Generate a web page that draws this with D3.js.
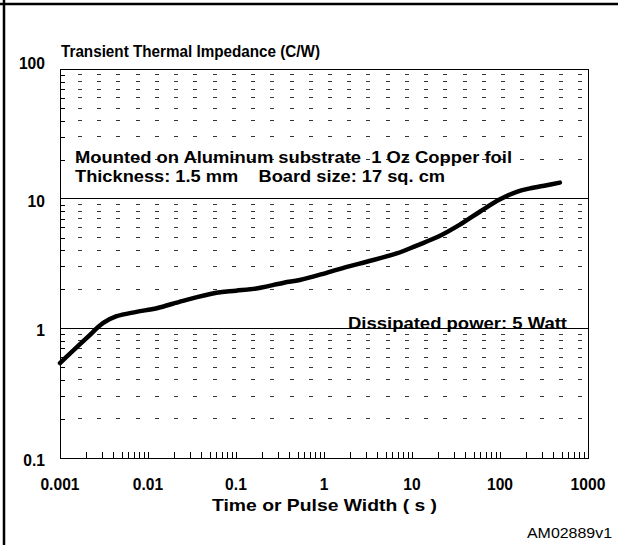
<!DOCTYPE html>
<html>
<head>
<meta charset="utf-8">
<script src="https://cdn.jsdelivr.net/npm/d3@7"></script>
<style>
body { margin: 0; background: #fff; }
text { font-family: "Liberation Sans", Arial, sans-serif; }
</style>
</head>
<body>
<div id="chart"></div>
<script>
// curve: pulse width (s) vs Zth (C/W)
var pulseWidth = [0.001, 0.002, 0.0031, 0.0044, 0.0074, 0.0126, 0.025, 0.06, 0.1, 0.17, 0.35, 0.53, 1.07, 1.97, 3.05, 6.7, 11.3, 20, 35, 59, 100, 155, 219, 339, 479];
var impedance  = [0.54, 0.84, 1.10, 1.24, 1.34, 1.43, 1.63, 1.88, 1.95, 2.03, 2.25, 2.36, 2.68, 3.02, 3.26, 3.78, 4.35, 5.1, 6.3, 7.93, 9.88, 11.3, 12.0, 12.7, 13.3];

var xTicks = [0.001, 0.01, 0.1, 1, 10, 100, 1000];
var xTickLabels = ["0.001", "0.01", "0.1", "1", "10", "100", "1000"];
var yTicks = [0.1, 1, 10, 100];
var yTickLabels = ["0.1", "1", "10", "100"];
var solidGrid = [1, 10];

var title = "Transient Thermal Impedance (C/W)";
var xTitle = "Time or Pulse Width ( s )";
var notes = ["Mounted on Aluminum substrate  1 Oz Copper foil", "Thickness: 1.5 mm    Board size: 17 sq. cm", "Dissipated power: 5 Watt"];
var figId = "AM02889v1";

var width = 618, height = 545;
// plot box (window.top is reserved, so use own names)
var plotL = 60, plotR = 588, plotT = 69, plotB = 458;

var svg = d3.select("#chart").append("svg")
    .attr("width", width)
    .attr("height", height);

var x = d3.scaleLog().domain([xTicks[0], xTicks[xTicks.length - 1]]).range([plotL, plotR]);
var y = d3.scaleLog().domain([yTicks[0], yTicks[yTicks.length - 1]]).range([plotB, plotT]);

// 2..9 multiples of each decade
var minors = function(decades) {
  var out = [];
  decades.slice(0, -1).forEach(function(d) {
    for (var m = 2; m <= 9; m++) out.push(m * d);
  });
  return out;
};
var xMinor = minors(xTicks).concat(xTicks.slice(1));
var yMinor = minors(yTicks);

// outer frame (only top and left visible)
svg.append("line").attr("x1", 0).attr("x2", width).attr("y1", 4).attr("y2", 4)
    .attr("stroke", "#000").attr("stroke-width", 2.5);
svg.append("line").attr("x1", 4).attr("x2", 4).attr("y1", 0).attr("y2", height)
    .attr("stroke", "#000").attr("stroke-width", 2.5);

// dashed grid
svg.append("g").selectAll("line")
    .data(yMinor)
    .enter()
    .append("line")
    .attr("x1", 78)
    .attr("x2", plotR)
    .attr("y1", function(d) { return y(d); })
    .attr("y2", function(d) { return y(d); })
    .attr("stroke", "#333")
    .attr("stroke-width", 1)
    .attr("stroke-dasharray", "4,15.23")
    .attr("shape-rendering", "crispEdges");

svg.append("g").selectAll("line")
    .data(solidGrid)
    .enter()
    .append("line")
    .attr("x1", plotL)
    .attr("x2", plotR)
    .attr("y1", function(d) { return y(d); })
    .attr("y2", function(d) { return y(d); })
    .attr("stroke", "#000")
    .attr("stroke-width", 1)
    .attr("shape-rendering", "crispEdges");

// y minor ticks pointing inward
svg.append("g")
    .attr("transform", "translate(" + plotL + ",0)")
    .call(d3.axisLeft(y).tickValues(yMinor).tickSize(-5).tickFormat(""))
    .call(function(g) { g.select(".domain").remove(); })
    .selectAll("line").attr("shape-rendering", "crispEdges");

// x ticks pointing inward
svg.append("g")
    .attr("transform", "translate(0," + plotB + ")")
    .call(d3.axisBottom(x).tickValues(xMinor).tickSize(-6).tickFormat(""))
    .call(function(g) { g.select(".domain").remove(); })
    .selectAll("line").attr("shape-rendering", "crispEdges");

// plot frame
svg.append("rect")
    .attr("x", plotL).attr("y", plotT)
    .attr("width", plotR - plotL).attr("height", plotB - plotT)
    .attr("fill", "none").attr("stroke", "#000").attr("stroke-width", 1)
    .attr("shape-rendering", "crispEdges");

// tick labels
svg.append("g").selectAll("text")
    .data(xTicks)
    .enter()
    .append("text")
    .attr("x", function(d) { return x(d); })
    .attr("y", 490)
    .attr("text-anchor", "middle")
    .attr("font-size", 17)
    .attr("font-weight", "bold")
    .attr("transform", function(d) { return "translate(" + x(d) + ",0) scale(0.92,1) translate(" + (-x(d)) + ",0)"; })
    .text(function(d, i) { return xTickLabels[i]; });

svg.append("g").selectAll("text")
    .data(yTicks)
    .enter()
    .append("text")
    .attr("x", 45)
    .attr("y", function(d, i) { return i === yTicks.length - 1 ? y(d) : y(d) + 8; })
    .attr("text-anchor", "end")
    .attr("font-size", 17)
    .attr("font-weight", "bold")
    .attr("transform", "translate(45,0) scale(0.92,1) translate(-45,0)")
    .text(function(d, i) { return yTickLabels[i]; });

// curve
var line = d3.line()
    .x(function(d) { return x(d[0]); })
    .y(function(d) { return y(d[1]); })
    .curve(d3.curveCatmullRom.alpha(0.5));

svg.append("path")
    .datum(d3.zip(pulseWidth, impedance))
    .attr("d", line)
    .attr("fill", "none")
    .attr("stroke", "#000")
    .attr("stroke-width", 4.5)
    .attr("stroke-linecap", "round")
    .attr("stroke-linejoin", "round");

// texts, stretched to the widths seen in the picture
var addText = function(str, tx, ty, len, size, weight) {
  svg.append("text")
    .attr("x", tx)
    .attr("y", ty)
    .attr("font-size", size)
    .attr("font-weight", weight)
    .attr("textLength", len)
    .attr("lengthAdjust", "spacingAndGlyphs")
    .style("white-space", "pre")
    .text(str);
};

addText(title, 61, 57, 259, 16, "bold");
addText(notes[0], 75, 163, 437, 16, "bold");
addText(notes[1], 75, 182, 370, 16, "bold");
addText(notes[2], 348, 329, 219, 16, "bold");
addText(xTitle, 212, 511, 225, 17, "bold");
addText(figId, 527, 538, 85, 14, "normal");
</script>
</body>
</html>
